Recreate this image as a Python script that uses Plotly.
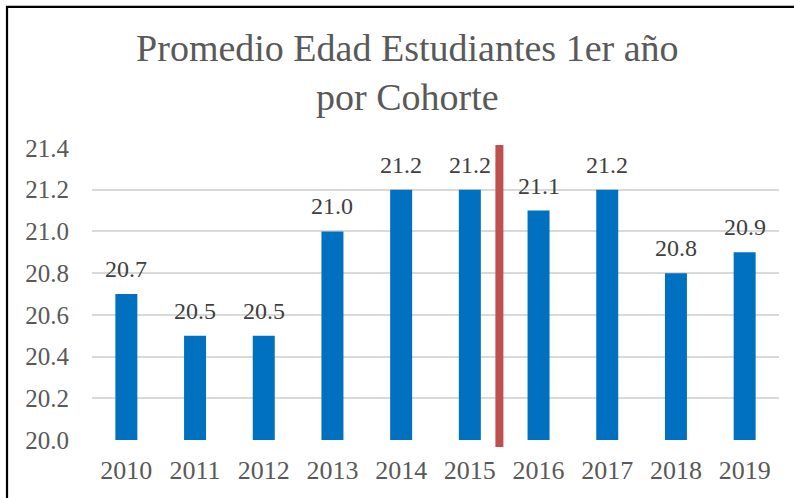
import plotly.graph_objects as go

years = ["2010", "2011", "2012", "2013", "2014", "2015", "2016", "2017", "2018", "2019"]
ages = [20.7, 20.5, 20.5, 21.0, 21.2, 21.2, 21.1, 21.2, 20.8, 20.9]
y_ticks = [20.0, 20.2, 20.4, 20.6, 20.8, 21.0, 21.2, 21.4]
title_text = "Promedio Edad Estudiantes 1er año<br>por Cohorte"
divider_pos = 5.43  # between 2015 and 2016 (category index)

FONT = "Liberation Serif"

fig = go.Figure()
fig.add_trace(go.Bar(
    x=years, y=ages,
    marker=dict(color="#0070C0", line=dict(width=0)),
    width=0.32,
    hoverinfo="skip",
))

for i, v in enumerate(ages):
    fig.add_annotation(
        x=i, y=v, xref="x", yref="y",
        text=f"{v:.1f}", showarrow=False,
        yanchor="bottom", yshift=10,
        font=dict(family=FONT, size=24, color="#404040"),
    )

# divider line
fig.add_shape(type="line", xref="x", yref="paper",
              x0=divider_pos, x1=divider_pos, y0=-0.024, y1=1.01,
              line=dict(color="#C0504D", width=8), layer="above")

# chart border (left + top)
fig.add_shape(type="path", xref="paper", yref="paper",
              path="M -0.1237,-0.25 L -0.1237,1.483 L 1.1,1.483",
              line=dict(color="black", width=2.2))

fig.update_layout(
    width=794, height=498,
    margin=dict(l=92, r=15, t=148, b=58, autoexpand=False),
    paper_bgcolor="white", plot_bgcolor="white",
    showlegend=False,
    title=dict(text=title_text, x=0.513, xanchor="center", y=0.878, yanchor="top",
               font=dict(family=FONT, size=38, color="#595959")),
    xaxis=dict(type="category", categoryorder="array", categoryarray=years,
               range=[-0.5, len(years) - 0.5], automargin=False,
               showgrid=False, showline=False, zeroline=False,
               tickfont=dict(family=FONT, size=26, color="#595959"),
               ticks="", ticklabelstandoff=12),
    yaxis=dict(range=[20.0, 21.4], tickvals=y_ticks, automargin=False,
               ticktext=[f"{t:.1f}" for t in y_ticks],
               showgrid=True, gridcolor="#D9D9D9", gridwidth=1.5,
               zeroline=False, showline=False, ticks="",
               tickfont=dict(family=FONT, size=25, color="#595959"),
               ticklabelstandoff=22),
)

fig.write_html("out.html", config={"displayModeBar": False},
               post_script="document.body.style.margin='0';")
